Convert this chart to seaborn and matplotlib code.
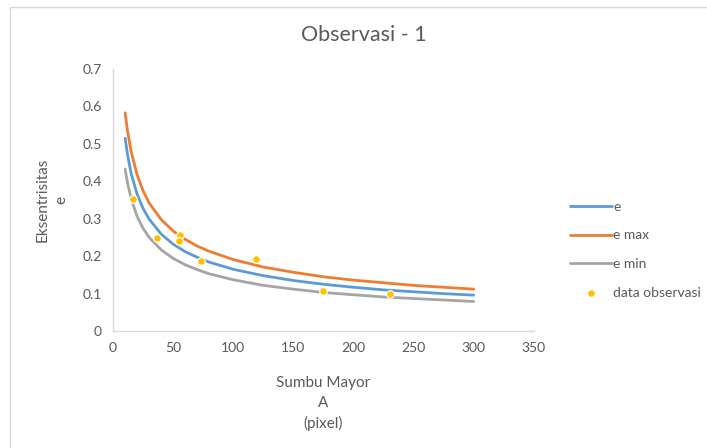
import pandas as pd
import matplotlib.pyplot as plt
import matplotlib.patches as patches
import seaborn as sns

# Values
sumbu = [10, 12, 15, 20, 25, 30, 40, 50, 60, 70, 80, 100, 125, 150, 175, 200, 225, 250, 275, 300]
e_vals = [0.515, 0.471, 0.421, 0.365, 0.327, 0.299, 0.259, 0.232, 0.212, 0.197, 0.184, 0.165,
          0.148, 0.135, 0.125, 0.117, 0.110, 0.105, 0.100, 0.096]
e_max = [0.583, 0.534, 0.479, 0.417, 0.374, 0.342, 0.298, 0.267, 0.245, 0.227, 0.213, 0.191,
         0.171, 0.157, 0.145, 0.136, 0.129, 0.122, 0.117, 0.112]
e_min = [0.433, 0.395, 0.354, 0.306, 0.274, 0.250, 0.217, 0.194, 0.177, 0.164, 0.153, 0.137,
         0.122, 0.112, 0.103, 0.097, 0.091, 0.087, 0.083, 0.079]

obs_a = [16.6, 36.6, 55.7, 54.9, 73, 119, 174.6, 230]
obs_e = [0.353, 0.249, 0.257, 0.241, 0.187, 0.192, 0.107, 0.099]

series_names = ['e', 'e max', 'e min']
colors = {'e': '#5B9BD5', 'e max': '#ED7D31', 'e min': '#A5A5A5'}

df_lines = pd.concat([
    pd.DataFrame({'A': sumbu, 'val': v, 'series': name})
    for name, v in zip(series_names, [e_vals, e_max, e_min])
])
df_obs = pd.DataFrame({'A': obs_a, 'val': obs_e})

sns.set_style('white')
plt.rcParams['font.family'] = ['Lato', 'DejaVu Sans']
txt = '#595959'

fig = plt.figure(figsize=(7.07, 4.48), dpi=100)
ax = fig.add_axes([0.16, 0.261, 0.595, 0.585])

sns.lineplot(data=df_lines, x='A', y='val', hue='series', hue_order=series_names,
             palette=colors, linewidth=2, ax=ax)
sns.scatterplot(data=df_obs, x='A', y='val', color='#FFC000', s=30, edgecolor='white',
                linewidth=0.8, zorder=5, label='data observasi', ax=ax)

ax.set_xlim(0, 350)
ax.set_ylim(0, 0.7)
ax.set_xticks(range(0, 351, 50))
ax.set_yticks([i / 10 for i in range(8)])
ax.set_yticklabels(['0'] + [f'{i / 10:.1f}' for i in range(1, 8)])
ax.tick_params(colors=txt, labelsize=10, length=0, pad=8)
for s in ['top', 'right']:
    ax.spines[s].set_visible(False)
for s in ['left', 'bottom']:
    ax.spines[s].set_color('#D9D9D9')
    ax.spines[s].set_linewidth(1)

ax.set_xlabel('Sumbu Mayor\nA\n(pixel)', color=txt, fontsize=11, labelpad=16, linespacing=1.5)
ax.set_ylabel('Eksentrisitas\ne', color=txt, fontsize=11, labelpad=10, linespacing=1.5)
fig.text(0.515, 0.922, 'Observasi - 1', ha='center', va='center', color=txt, fontsize=15.5)

leg = ax.legend(loc='center left', bbox_to_anchor=(1.057, 0.31), frameon=False,
                fontsize=10, labelspacing=1.2, handlelength=3, handletextpad=0.1)
for t in leg.get_texts():
    t.set_color(txt)

# chart area border
fig.patches.append(patches.Rectangle((10 / 707, -0.1), 1.1, 1 - 7 / 448 + 0.1,
                                     transform=fig.transFigure, fill=False,
                                     edgecolor='#D9D9D9', linewidth=1))

plt.savefig('out.png', dpi=100)
